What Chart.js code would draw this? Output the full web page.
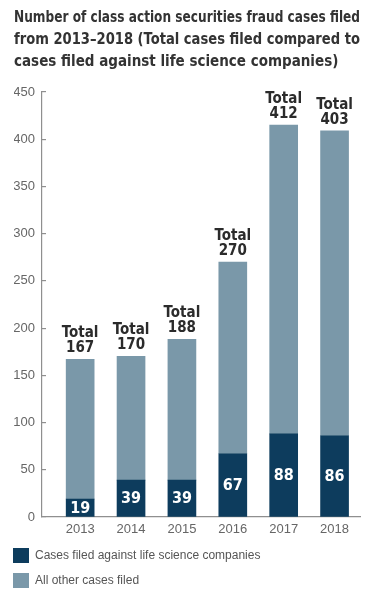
<!DOCTYPE html>
<html><head><meta charset="utf-8">
<script src="https://cdn.jsdelivr.net/npm/chart.js@4/dist/chart.umd.min.js"></script>
<style>html,body{margin:0;padding:0;background:#fff;}#wrap{width:369px;height:600px;}</style>
</head><body><div id="wrap"><canvas id="c" width="369" height="600"></canvas></div>
<script>
const years = ['2013', '2014', '2015', '2016', '2017', '2018'];
const lifeScienceCases = [19, 39, 39, 67, 88, 86];
const otherCases = [148, 131, 149, 203, 327, 323];
const totalLabels = [167, 170, 188, 270, 412, 403];
const titleLines = [
  'Number of class action securities fraud cases filed',
  'from 2013\u20132018 (Total cases filed compared to',
  'cases filed against life science companies)'
];
const seriesNames = ['Cases filed against life science companies', 'All other cases filed'];

const NARROW = "'Liberation Sans Narrow', 'DejaVu Sans Condensed', 'Arial Narrow', sans-serif";
const REG = "'Liberation Sans', Arial, sans-serif";
const DARK = '#0d3c5d';
const LIGHT = '#7a98a9';

const labelPlugin = {
  id: 'barLabels',
  afterLayout(chart) {
    chart.legend.left = 3;
  },
  afterDatasetsDraw(chart) {
    const ctx = chart.ctx;
    const m0 = chart.getDatasetMeta(0).data;
    const m1 = chart.getDatasetMeta(1).data;
    ctx.save();
    ctx.textAlign = 'center';
    ctx.textBaseline = 'middle';
    m0.forEach((bar, i) => {
      ctx.fillStyle = '#ffffff';
      ctx.font = 'bold 16px ' + NARROW;
      ctx.fillText(String(lifeScienceCases[i]), bar.x, (bar.y + bar.base) / 2 + 1);
      const top = m1[i].y;
      ctx.fillStyle = '#2b2b2b';
      ctx.font = 'bold 15px ' + NARROW;
      ctx.fillText('Total', m1[i].x, top - 26);
      ctx.fillText(String(totalLabels[i]), m1[i].x, top - 11);
    });
    ctx.restore();
  }
};

new Chart(document.getElementById('c'), {
  type: 'bar',
  data: {
    datasets: [
      { label: seriesNames[0], data: lifeScienceCases.map((v, i) => ({ x: i, y: v })), backgroundColor: DARK, borderWidth: 0, barThickness: 28 },
      { label: seriesNames[1], data: otherCases.map((v, i) => ({ x: i, y: v })), backgroundColor: LIGHT, borderWidth: 0, barThickness: 28 }
    ]
  },
  options: {
    responsive: false,
    animation: false,
    layout: { padding: { left: 14, right: 9, top: 0, bottom: 2 } },
    scales: {
      x: {
        type: 'linear', stacked: true, min: -0.75, max: 5.5, offset: false,
        afterBuildTicks: s => { s.ticks = years.map((_, i) => ({ value: i })); },
        afterFit: s => { s.height = 21; },
        ticks: { callback: v => years[v] ?? '', color: '#666', font: { family: REG, size: 13 }, padding: 5, maxRotation: 0, autoSkip: true },
        grid: { display: false, drawTicks: false },
        border: { display: true, color: '#8f8f8f', width: 1.2 }
      },
      y: {
        stacked: true, min: 0, max: 450,
        afterFit: s => { s.width = 28; },
        ticks: { stepSize: 50, color: '#666', font: { family: REG, size: 13 }, padding: 11 },
        grid: { drawOnChartArea: false, drawTicks: true, tickLength: -4, color: '#8f8f8f', lineWidth: 1.2 },
        border: { display: true, color: '#8f8f8f', width: 1.2 }
      }
    },
    plugins: {
      title: {
        display: true, text: titleLines, align: 'start', color: '#333',
        font: { family: NARROW, size: 15, weight: 'bold', lineHeight: '22px' },
        padding: { top: 7, bottom: 19 }
      },
      legend: {
        position: 'bottom', align: 'start',
        labels: { boxWidth: 16, boxHeight: 15, padding: 10, color: '#555', font: { family: REG, size: 12 } }
      },
      tooltip: { enabled: false }
    }
  },
  plugins: [labelPlugin]
});
</script>
</body></html>
